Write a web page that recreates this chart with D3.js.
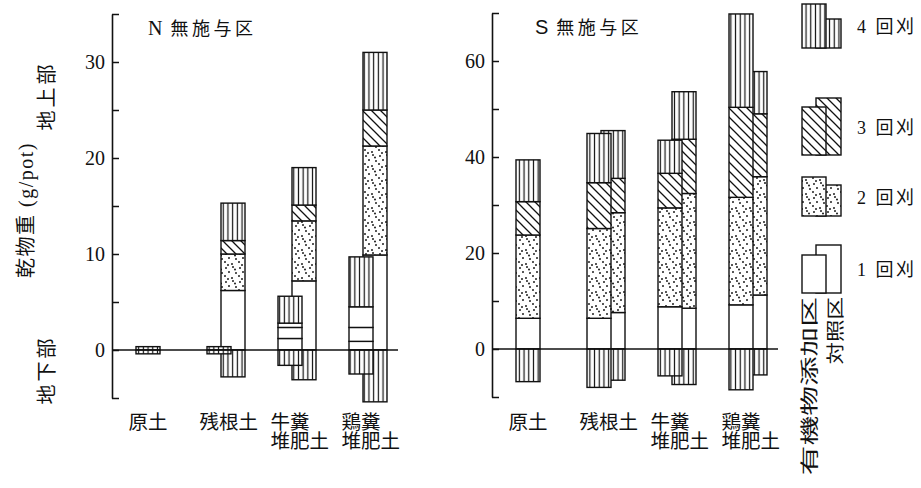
<!DOCTYPE html>
<html>
<head>
<meta charset="utf-8">
<script src="https://cdn.jsdelivr.net/npm/d3@7"></script>
<style>
  body { margin: 0; background: #fff; }
  text { font-family: "Liberation Serif", "Noto Sans CJK JP", serif; fill: #111; }
</style>
</head>
<body>
<svg id="chart" width="921" height="488"></svg>
<script>
// Soil treatments along the x axis
const soils = ["原土", "残根土", "牛糞\n堆肥土", "鶏糞\n堆肥土"];
const cutLabels = ["1 回刈", "2 回刈", "3 回刈", "4 回刈"];
const plotLabels = ["有機物添加区", "対照区"];

// N 無施与区: dry matter per cutting (g/pot), cuts 1–4; null = plot not present
const nAdded   = [null, [0, 0, 0, 0.35], [1.2, 1.15, 0.45, 2.8], [0.9, 1.45, 2.15, 5.2]];
const nControl = [[0, 0, 0, 0.35], [6.2, 3.8, 1.4, 3.9], [7.2, 6.25, 1.65, 3.9], [9.9, 11.35, 3.75, 6.0]];
// roots (地下部), g/pot
const nAddedRoot   = [null, 0.4, 1.6, 2.5];
const nControlRoot = [0.4, 2.8, 3.1, 5.4];

// S 無施与区
const sAdded   = [null, [6.4, 18.7, 9.55, 10.25], [8.8, 20.6, 7.2, 6.9], [9.2, 22.4, 18.75, 19.45]];
const sControl = [[6.4, 17.35, 6.95, 8.7], [7.6, 20.8, 7.15, 9.95], [8.5, 23.9, 11.3, 9.9], [11.25, 24.65, 13.1, 8.8]];
const sAddedRoot   = [null, 8.0, 5.6, 8.5];
const sControlRoot = [6.8, 6.5, 7.4, 5.4];

// axis ticks
const nTicks = d3.range(-5, 36, 5);
const nTickLabels = [0, 10, 20, 30];
const sTicks = d3.range(-10, 71, 10);
const sTickLabels = [0, 20, 40, 60];

const svg = d3.select("#chart");

// ---- fill patterns ----
const defs = svg.append("defs");
function stripePattern(id, gap) {
  const p = defs.append("pattern").attr("id", id).attr("patternUnits", "userSpaceOnUse")
    .attr("width", gap).attr("height", 10);
  p.append("rect").attr("width", gap).attr("height", 10).attr("fill", "#fff");
  p.append("line").attr("x1", gap / 2).attr("x2", gap / 2).attr("y1", 0).attr("y2", 10)
    .attr("stroke", "#111").attr("stroke-width", 1.2);
}
stripePattern("stripes", 4.7);
stripePattern("rootStripes", 4.7);
{
  const s = 9;
  const p = defs.append("pattern").attr("id", "hatch").attr("patternUnits", "userSpaceOnUse")
    .attr("width", s).attr("height", s);
  p.append("rect").attr("width", s).attr("height", s).attr("fill", "#fff");
  p.append("path").attr("d", `M0,0L${s},${s}M${-s / 2},${s / 2}L${s / 2},${s * 1.5}M${s / 2},${-s / 2}L${s * 1.5},${s / 2}`)
    .attr("stroke", "#111").attr("stroke-width", 1.3);
}
{
  const p = defs.append("pattern").attr("id", "dots").attr("patternUnits", "userSpaceOnUse")
    .attr("width", 14).attr("height", 14);
  p.append("rect").attr("width", 14).attr("height", 14).attr("fill", "#fff");
  [[2, 2], [9, 1], [5, 6], [12, 7], [1, 10], [8, 12], [11, 3.5], [4, 13]].forEach(([x, y]) =>
    p.append("circle").attr("cx", x).attr("cy", y).attr("r", 0.95).attr("fill", "#111"));
}
const cutFill = ["#fff", "url(#dots)", "url(#hatch)", "url(#stripes)"];

// ---- panels ----
const panels = [
  { letter: "N", titleX: 148, titleY: 35, axisX: 112, domain: [-5, 35], yRange: [398, 14],
    ticks: nTicks, labels: nTickLabels, band: [119, 403], zeroEnd: 398,
    added: nAdded, control: nControl, addedRoot: nAddedRoot, controlRoot: nControlRoot,
    plainAdded: true },
  { letter: "S", titleX: 535, titleY: 34, axisX: 492, domain: [-10, 70], yRange: [397, 13],
    ticks: sTicks, labels: sTickLabels, band: [499, 783], zeroEnd: 778,
    added: sAdded, control: sControl, addedRoot: sAddedRoot, controlRoot: sControlRoot,
    plainAdded: false }
];

const barW = 24;
const slotOffset = [-18.5, -4.5]; // first slot (有機物添加区), second slot (対照区)

panels.forEach(pn => {
  const g = svg.append("g");
  const y = d3.scaleLinear().domain(pn.domain).range(pn.yRange);
  const x = d3.scaleBand().domain(soils).range(pn.band);
  const cx = s => x(s) + x.bandwidth() / 2;

  function drawBar(cuts, root, left, plain) {
    const cum = d3.cumsum(cuts);
    const segs = cuts.map((v, i) => ({ v, i, lo: i ? cum[i - 1] : 0, hi: cum[i] })).filter(d => d.v > 0);
    g.selectAll(null).data(segs).enter().append("rect")
      .attr("x", left).attr("width", barW)
      .attr("y", d => y(d.hi)).attr("height", d => y(d.lo) - y(d.hi))
      .attr("fill", d => (plain && d.i < 3) ? "#fff" : cutFill[d.i])
      .attr("stroke", "#111").attr("stroke-width", 1.4);
    g.append("rect").attr("x", left).attr("width", barW)
      .attr("y", y(0)).attr("height", y(-root) - y(0))
      .attr("fill", "url(#rootStripes)").attr("stroke", "#111").attr("stroke-width", 1.4);
  }

  soils.forEach((s, k) => {
    const hasAdded = pn.added[k] !== null;
    const ctrlSlot = hasAdded ? 1 : 0;
    // control plot sits behind, organic-added plot drawn over it
    drawBar(pn.control[k], pn.controlRoot[k], cx(s) + slotOffset[ctrlSlot], false);
    if (hasAdded) drawBar(pn.added[k], pn.addedRoot[k], cx(s) + slotOffset[0], pn.plainAdded);
  });

  // zero line
  g.append("line").attr("x1", pn.axisX).attr("x2", pn.zeroEnd)
    .attr("y1", y(0)).attr("y2", y(0)).attr("stroke", "#111").attr("stroke-width", 1.6);

  // y axis, ticks pointing inward
  const axis = d3.axisLeft(y).tickValues(pn.ticks).tickSizeInner(-7).tickSizeOuter(0).tickPadding(7)
    .tickFormat(d => pn.labels.includes(d) ? d : "");
  const ag = g.append("g").attr("transform", `translate(${pn.axisX},0)`).call(axis);
  ag.select(".domain").attr("stroke", "#111").attr("stroke-width", 1.6);
  ag.selectAll(".tick line").attr("stroke", "#111").attr("stroke-width", 1.5);
  ag.selectAll(".tick text").attr("font-family", "Liberation Serif").attr("font-size", 20).attr("fill", "#111");

  // title
  const t = g.append("text").attr("x", pn.titleX).attr("y", pn.titleY).attr("font-size", 18);
  t.append("tspan").attr("font-family", pn.letter === "S" ? "Liberation Sans" : "Liberation Serif")
    .attr("font-size", 20).text(pn.letter);
  t.append("tspan").attr("dx", 8).attr("font-family", "Noto Sans CJK JP").attr("letter-spacing", 3.5).text("無施与区");

  // category labels
  soils.forEach(s => {
    const lines = s.split("\n");
    const tx = g.append("text").attr("x", cx(s) - 26).attr("y", 429)
      .attr("font-family", "Noto Sans CJK JP").attr("font-size", 19.5);
    lines.forEach((ln, i) => tx.append("tspan").attr("x", cx(s) - 26).attr("dy", i ? 19 : 0).text(ln));
  });
});

// vertical (rotated) labels; stretch elongates glyphs along the column
function vText(txt, x, y, size, anchor, spacing, stretch) {
  svg.append("text").attr("transform", `translate(${x},${y}) rotate(-90) scale(${stretch || 1},1)`)
    .attr("text-anchor", anchor).attr("font-size", size).attr("letter-spacing", spacing || 0).text(txt);
}
vText("乾物重 (g/pot)", 33, 210, 20, "middle", 1.5);
vText("地上部", 54, 96, 20, "middle", 3);
vText("地下部", 54, 370, 20, "middle", 3);

// ---- legend ----
const legend = svg.append("g");
const legendRows = [
  { cut: 3, bottom: 48,  hLeft: 44, hRight: 29 },
  { cut: 2, bottom: 155, hLeft: 48, hRight: 57 },
  { cut: 1, bottom: 216, hLeft: 39, hRight: 31 },
  { cut: 0, bottom: 293, hLeft: 38, hRight: 48 }
];
legendRows.forEach(r => {
  legend.append("rect").attr("x", 816).attr("width", 25).attr("y", r.bottom - r.hRight).attr("height", r.hRight)
    .attr("fill", cutFill[r.cut]).attr("stroke", "#111").attr("stroke-width", 1.4);
  legend.append("rect").attr("x", 802).attr("width", 24).attr("y", r.bottom - r.hLeft).attr("height", r.hLeft)
    .attr("fill", cutFill[r.cut]).attr("stroke", "#111").attr("stroke-width", 1.4);
  legend.append("text").attr("x", 857).attr("y", (r.bottom * 2 - Math.max(r.hLeft, r.hRight)) / 2 + 7)
    .attr("font-size", 18).attr("letter-spacing", 2.5).text(cutLabels[r.cut]);
});
vText(plotLabels[0], 816, 297, 18, "end", 0, 1.65);
vText(plotLabels[1], 842, 297, 18, "end", 0, 1.25);
</script>
</body>
</html>
